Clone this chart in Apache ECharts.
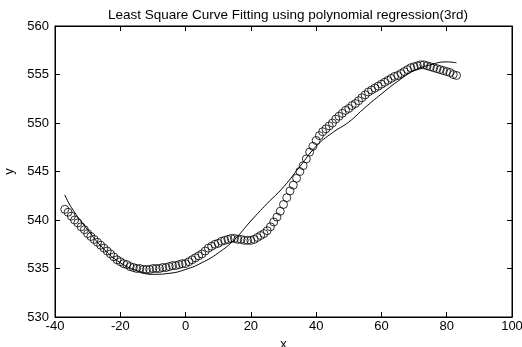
<!DOCTYPE html>
<html>
<head>
<meta charset="utf-8">
<script src="https://cdn.jsdelivr.net/npm/echarts@6/dist/echarts.min.js"></script>
<style>
  html, body { margin: 0; padding: 0; background: #fff; }
  #chart { width: 522px; height: 347px; }
</style>
</head>
<body>
<div id="chart"></div>
<script>
// measured points (circles), x = -37 .. 83 step 1
const obsX = []
for (let x = -37; x <= 83; x++) obsX.push(x)
const obsY = [
  541.1, 540.8, 540.4, 540.0, 539.7, 539.3, 539.0, 538.6, 538.3, 538.0,
  537.7, 537.4, 537.1, 536.8, 536.5, 536.2, 535.9, 535.7, 535.5, 535.4,
  535.2, 535.1, 535.0, 535.0, 534.9, 534.9, 534.9, 535.0, 535.0, 535.0,
  535.1, 535.1, 535.2, 535.3, 535.3, 535.4, 535.5, 535.5, 535.7, 535.9,
  536.1, 536.3, 536.5, 536.8, 537.1, 537.3, 537.5, 537.6, 537.8, 537.9,
  538.0, 538.1, 538.1, 538.0, 538.0, 537.9, 537.9, 537.9, 538.0, 538.2,
  538.4, 538.6, 538.9, 539.3, 539.8, 540.3, 540.9, 541.6, 542.3, 543.0,
  543.6, 544.3, 545.0, 545.6, 546.3, 547.0, 547.6, 548.2, 548.7, 549.1,
  549.4, 549.7, 550.0, 550.4, 550.7, 551.0, 551.3, 551.5, 551.8, 552.0,
  552.3, 552.6, 552.9, 553.2, 553.4, 553.6, 553.8, 554.0, 554.2, 554.4,
  554.6, 554.8, 554.9, 555.1, 555.3, 555.5, 555.7, 555.8, 555.9, 556.0,
  556.0, 555.9, 555.8, 555.7, 555.6, 555.5, 555.4, 555.3, 555.2, 555.0,
  554.9
]

// fitted curve
const fitX = [-37, -35, -30, -25, -20, -15, -10, -5, 0, 5, 10, 15, 20, 25, 30, 35, 40, 45, 50, 55, 60, 65, 70, 75, 80, 83]
const fitY = [542.6, 541.3, 539.0, 537.0, 535.6, 534.8, 534.4, 534.5, 534.9, 535.6, 536.6, 538.0, 539.9, 541.7, 543.4, 545.5, 547.6, 549.0, 550.1, 551.6, 553.0, 554.3, 555.4, 556.0, 556.3, 556.2]

const xTicks = [-40, -20, 0, 20, 40, 60, 80, 100]
const yTicks = [530, 535, 540, 545, 550, 555, 560]

const chart = echarts.init(document.getElementById('chart'))

const font = 'Liberation Sans, Arial, sans-serif'
const axisBase = {
  type: 'value',
  axisLine: { show: true, onZero: false, lineStyle: { color: '#000', width: 1 } },
  axisTick: { show: true, inside: true, length: 5, lineStyle: { color: '#000' } },
  splitLine: { show: false },
}

chart.setOption({
  backgroundColor: '#fff',
  animation: false,
  title: {
    text: 'Least Square Curve Fitting using polynomial regression(3rd)',
    left: 283,
    textAlign: 'center',
    top: 3,
    textStyle: { color: '#000', fontSize: 13.5, fontWeight: 'normal', fontFamily: font },
  },
  grid: {
    left: 55, right: 10, top: 26, bottom: 30,
    outerBoundsMode: 'none', containLabel: false,
    show: true, borderColor: '#000', borderWidth: 1,
  },
  xAxis: [
    {
      ...axisBase,
      min: xTicks[0], max: xTicks[xTicks.length - 1], interval: 20,
      name: 'x', nameLocation: 'middle', nameGap: 17,
      nameTextStyle: { color: '#000', fontSize: 13, fontFamily: font },
      axisLabel: { color: '#000', fontSize: 13, fontFamily: font, margin: 3 },
    },
    {
      ...axisBase, position: 'top',
      min: xTicks[0], max: xTicks[xTicks.length - 1], interval: 20,
      axisLabel: { show: false },
    },
  ],
  yAxis: [
    {
      ...axisBase,
      min: yTicks[0], max: yTicks[yTicks.length - 1], interval: 5,
      name: 'y', nameLocation: 'middle', nameGap: 34,
      nameTextStyle: { color: '#000', fontSize: 13, fontFamily: font },
      axisLabel: { color: '#000', fontSize: 13, fontFamily: font, margin: 6 },
    },
    {
      ...axisBase, position: 'right',
      min: yTicks[0], max: yTicks[yTicks.length - 1], interval: 5,
      axisLabel: { show: false },
    },
  ],
  series: [
    {
      type: 'scatter',
      data: obsX.map((x, i) => [x, obsY[i]]),
      symbol: 'circle',
      symbolSize: 8,
      itemStyle: { color: 'transparent', borderColor: '#000', borderWidth: 1 },
    },
    {
      type: 'line',
      data: fitX.map((x, i) => [x, fitY[i]]),
      smooth: true,
      showSymbol: false,
      lineStyle: { color: '#000', width: 1 },
    },
  ],
})
</script>
</body>
</html>
